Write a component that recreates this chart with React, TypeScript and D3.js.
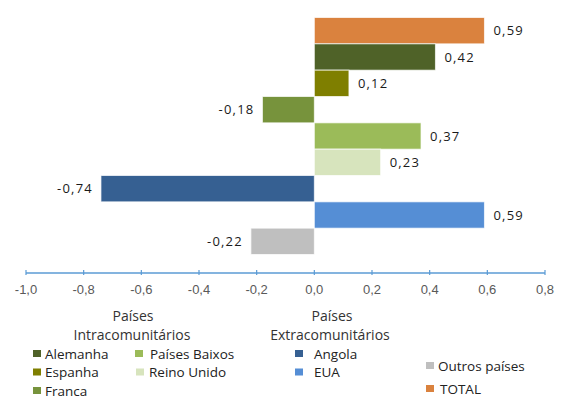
import React from "react";
import * as d3 from "d3";

const categories = ["TOTAL", "Alemanha", "Espanha", "Franca", "Países Baixos", "Reino Unido", "Angola", "EUA", "Outros países"];
const values = [0.59, 0.42, 0.12, -0.18, 0.37, 0.23, -0.74, 0.59, -0.22];
const colors = ["#DA823E", "#4F6228", "#7F7F00", "#77933C", "#9BBB59", "#D7E4BD", "#366092", "#558ED5", "#BFBFBF"];
const tickValues = [-1.0, -0.8, -0.6, -0.4, -0.2, 0.0, 0.2, 0.4, 0.6, 0.8];

const W = 561;
const H = 400;

const fmt = (v: number) => d3.format(".2f")(v).replace(".", ",").replace("\u2212", "-");
const fmtTick = (v: number) => d3.format(".1f")(v).replace(".", ",").replace("\u2212", "-");

export default function App() {
  const x = d3.scaleLinear().domain([-1.0, 0.8]).range([26, 545]);
  const y = d3.scaleBand<string>().domain(categories).range([17.5, 254.5]).padding(0);
  const axisY = 273;
  const colorOf = (c: string) => colors[categories.indexOf(c)];

  const legendFont = "'Open Sans', sans-serif";

  // legend layout: [category, squareX, textX, y]
  const legendItems: [string, number, number, number][] = [
    ["Alemanha", 33, 45, 354],
    ["Espanha", 33, 45, 372.5],
    ["Franca", 33, 45, 391],
    ["Países Baixos", 135, 150, 354],
    ["Reino Unido", 136, 149, 372.5],
    ["Angola", 295, 314, 354],
    ["EUA", 295, 314, 372.5],
    ["Outros países", 426, 438, 366],
    ["TOTAL", 426, 440, 389],
  ];

  return (
    <svg width={W} height={H} style={{ position: "absolute", left: 0, top: 0, background: "#fff" }}>
      {categories.map((c, i) => {
        const v = values[i];
        const x0 = x(Math.min(0, v));
        const x1 = x(Math.max(0, v));
        const yy = y(c)!;
        const bh = y.bandwidth();
        return (
          <g key={c}>
            <rect x={x0} y={yy} width={x1 - x0} height={bh} fill={colors[i]} stroke="#ffffff" strokeOpacity={0.7} strokeWidth={1} />
            <text
              x={v >= 0 ? x1 + 9 : x0 - 8}
              y={yy + bh / 2}
              dy="0.35em"
              textAnchor={v >= 0 ? "start" : "end"}
              fontFamily={legendFont}
              fontSize={13}
              letterSpacing={1.2}
              fill="#1a1a1a"
            >
              {fmt(v)}
            </text>
          </g>
        );
      })}
      <line x1={x(-1.0)} x2={x(0.8)} y1={axisY} y2={axisY} stroke="#5B9BD5" strokeWidth={1.5} />
      {tickValues.map((t) => (
        <g key={t}>
          <line x1={x(t)} x2={x(t)} y1={axisY - 3} y2={axisY + 2} stroke="#5B9BD5" strokeWidth={1.2} />
          <text x={x(t)} y={axisY + 16} dy="0.35em" textAnchor="middle" fontFamily="'Liberation Sans', Arial, sans-serif" fontSize={13} fill="#595959">
            {fmtTick(t)}
          </text>
        </g>
      ))}
      <text x={133} y={316.2} dy="0.35em" textAnchor="middle" fontFamily={legendFont} fontSize={14} fill="#333">Países</text>
      <text x={132} y={335.3} dy="0.35em" textAnchor="middle" fontFamily={legendFont} fontSize={14} fill="#333">Intracomunitários</text>
      <text x={332} y={316.2} dy="0.35em" textAnchor="middle" fontFamily={legendFont} fontSize={14} fill="#333">Países</text>
      <text x={330} y={335.3} dy="0.35em" textAnchor="middle" fontFamily={legendFont} fontSize={14} fill="#333">Extracomunitários</text>
      {legendItems.map(([c, sx, tx, ly]) => (
        <g key={"lg" + c}>
          <rect x={sx} y={ly - 4} width={8} height={7} fill={colorOf(c)} />
          <text x={tx} y={ly} dy="0.35em" fontFamily={legendFont} fontSize={13.5} fill="#222">{c}</text>
        </g>
      ))}
    </svg>
  );
}
